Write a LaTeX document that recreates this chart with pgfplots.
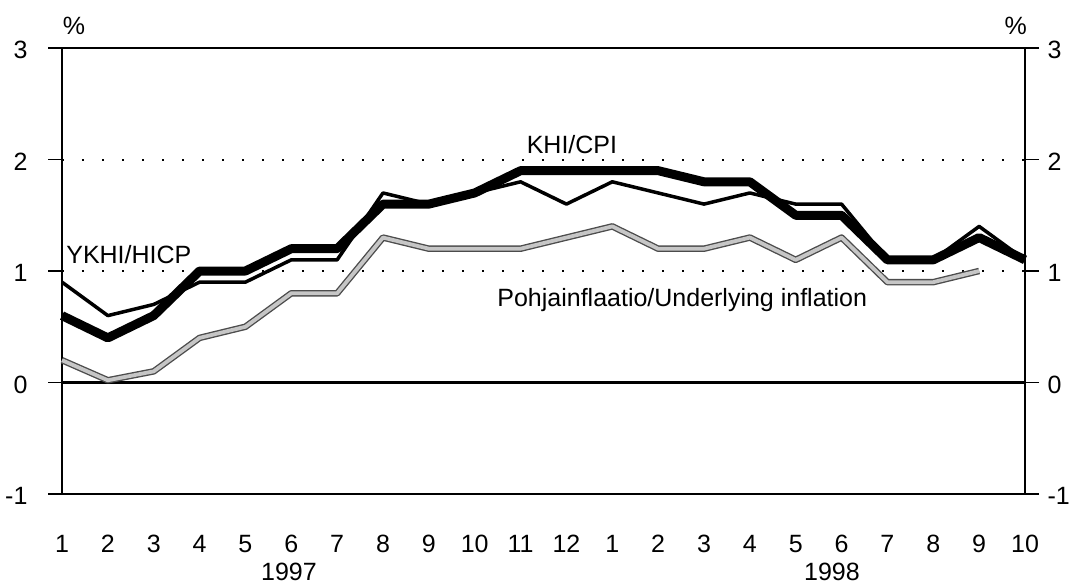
\documentclass[border=0pt]{standalone}
\usepackage{fontspec}
\setmainfont{Liberation Sans}
\usepackage{pgfplots}
\pgfplotsset{compat=1.18}
\begin{document}
\fontsize{25}{30}\selectfont
\begin{tikzpicture}
\path[use as bounding box] (-62pt,-90pt) rectangle (1009pt,494pt);
\pgfplotsset{
  common/.style={
    scale only axis, width=963pt, height=446pt,
    xmin=1, xmax=22, ymin=-1, ymax=3,
    ytick={-1,0,1,2,3}, yticklabels={-1,0,1,2,3},
    tick align=outside, major tick length=14pt,
    tick style={black, line width=1.8pt},
    axis line style={line width=2.5pt},
    ticklabel style={font=\fontsize{25}{30}\selectfont},
  }
}
\begin{axis}[common,
  xtick={1,...,22},
  xticklabels={1,2,3,4,5,6,7,8,9,10,11,12,1,2,3,4,5,6,7,8,9,10},
  xtick style={draw=none},
  ytick pos=left,
  xticklabel style={anchor=base, yshift=-44pt},
  yticklabel style={xshift=-12pt, yshift=-2pt},
  ymajorgrids,
  grid style={black, line width=2pt, dash pattern=on 2pt off 18pt},
  clip=false,
]
\addplot[black, line width=2.2pt] coordinates {(1,0) (22,0)};
% Underlying inflation (grey, dark edged)
\addplot[black!70, line width=6.5pt, line join=round] coordinates {
(1,0.2)(2,0.02)(3,0.1)(4,0.4)(5,0.5)(6,0.8)(7,0.8)(8,1.3)(9,1.2)(10,1.2)(11,1.2)
(12,1.3)(13,1.4)(14,1.2)(15,1.2)(16,1.3)(17,1.1)(18,1.3)(19,0.9)(20,0.9)(21,1.0)};
\addplot[gray!45, line width=3.8pt, line join=round] coordinates {
(1,0.2)(2,0.02)(3,0.1)(4,0.4)(5,0.5)(6,0.8)(7,0.8)(8,1.3)(9,1.2)(10,1.2)(11,1.2)
(12,1.3)(13,1.4)(14,1.2)(15,1.2)(16,1.3)(17,1.1)(18,1.3)(19,0.9)(20,0.9)(21,1.0)};
% YKHI/HICP (thin)
\addplot[black, line width=3.5pt, line join=round] coordinates {
(1,0.9)(2,0.6)(3,0.7)(4,0.9)(5,0.9)(6,1.1)(7,1.1)(8,1.7)(9,1.6)(10,1.7)(11,1.8)
(12,1.6)(13,1.8)(14,1.7)(15,1.6)(16,1.7)(17,1.6)(18,1.6)(19,1.1)(20,1.1)(21,1.4)(22,1.1)};
% KHI/CPI (thick)
\addplot[black, line width=9pt, line join=round] coordinates {
(1,0.6)(2,0.4)(3,0.6)(4,1.0)(5,1.0)(6,1.2)(7,1.2)(8,1.6)(9,1.6)(10,1.7)(11,1.9)
(12,1.9)(13,1.9)(14,1.9)(15,1.8)(16,1.8)(17,1.5)(18,1.5)(19,1.1)(20,1.1)(21,1.3)(22,1.1)};
\node at (axis cs:12.12,2.13) {KHI/CPI};
\node[anchor=west, inner sep=0pt] at (axis cs:1.09,1.15) {YKHI/HICP};
\node[anchor=west, inner sep=0pt] at (axis cs:10.49,0.74) {Pohjainflaatio/Underlying inflation};
\node[anchor=base, inner sep=0pt] at (axis cs:5.95,-1) [yshift=-86pt] {1997};
\node[anchor=base, inner sep=0pt] at (axis cs:17.79,-1) [yshift=-86pt] {1998};
\node[anchor=base, inner sep=0pt] at (axis cs:1.26,3) [yshift=14pt] {\%};
\node[anchor=base, inner sep=0pt] at (axis cs:21.8,3) [yshift=14pt] {\%};
\end{axis}
\begin{axis}[common,
  axis x line=none, axis y line*=right,
  yticklabel style={xshift=0pt, yshift=-2pt},
]
\end{axis}
\end{tikzpicture}
\end{document}
